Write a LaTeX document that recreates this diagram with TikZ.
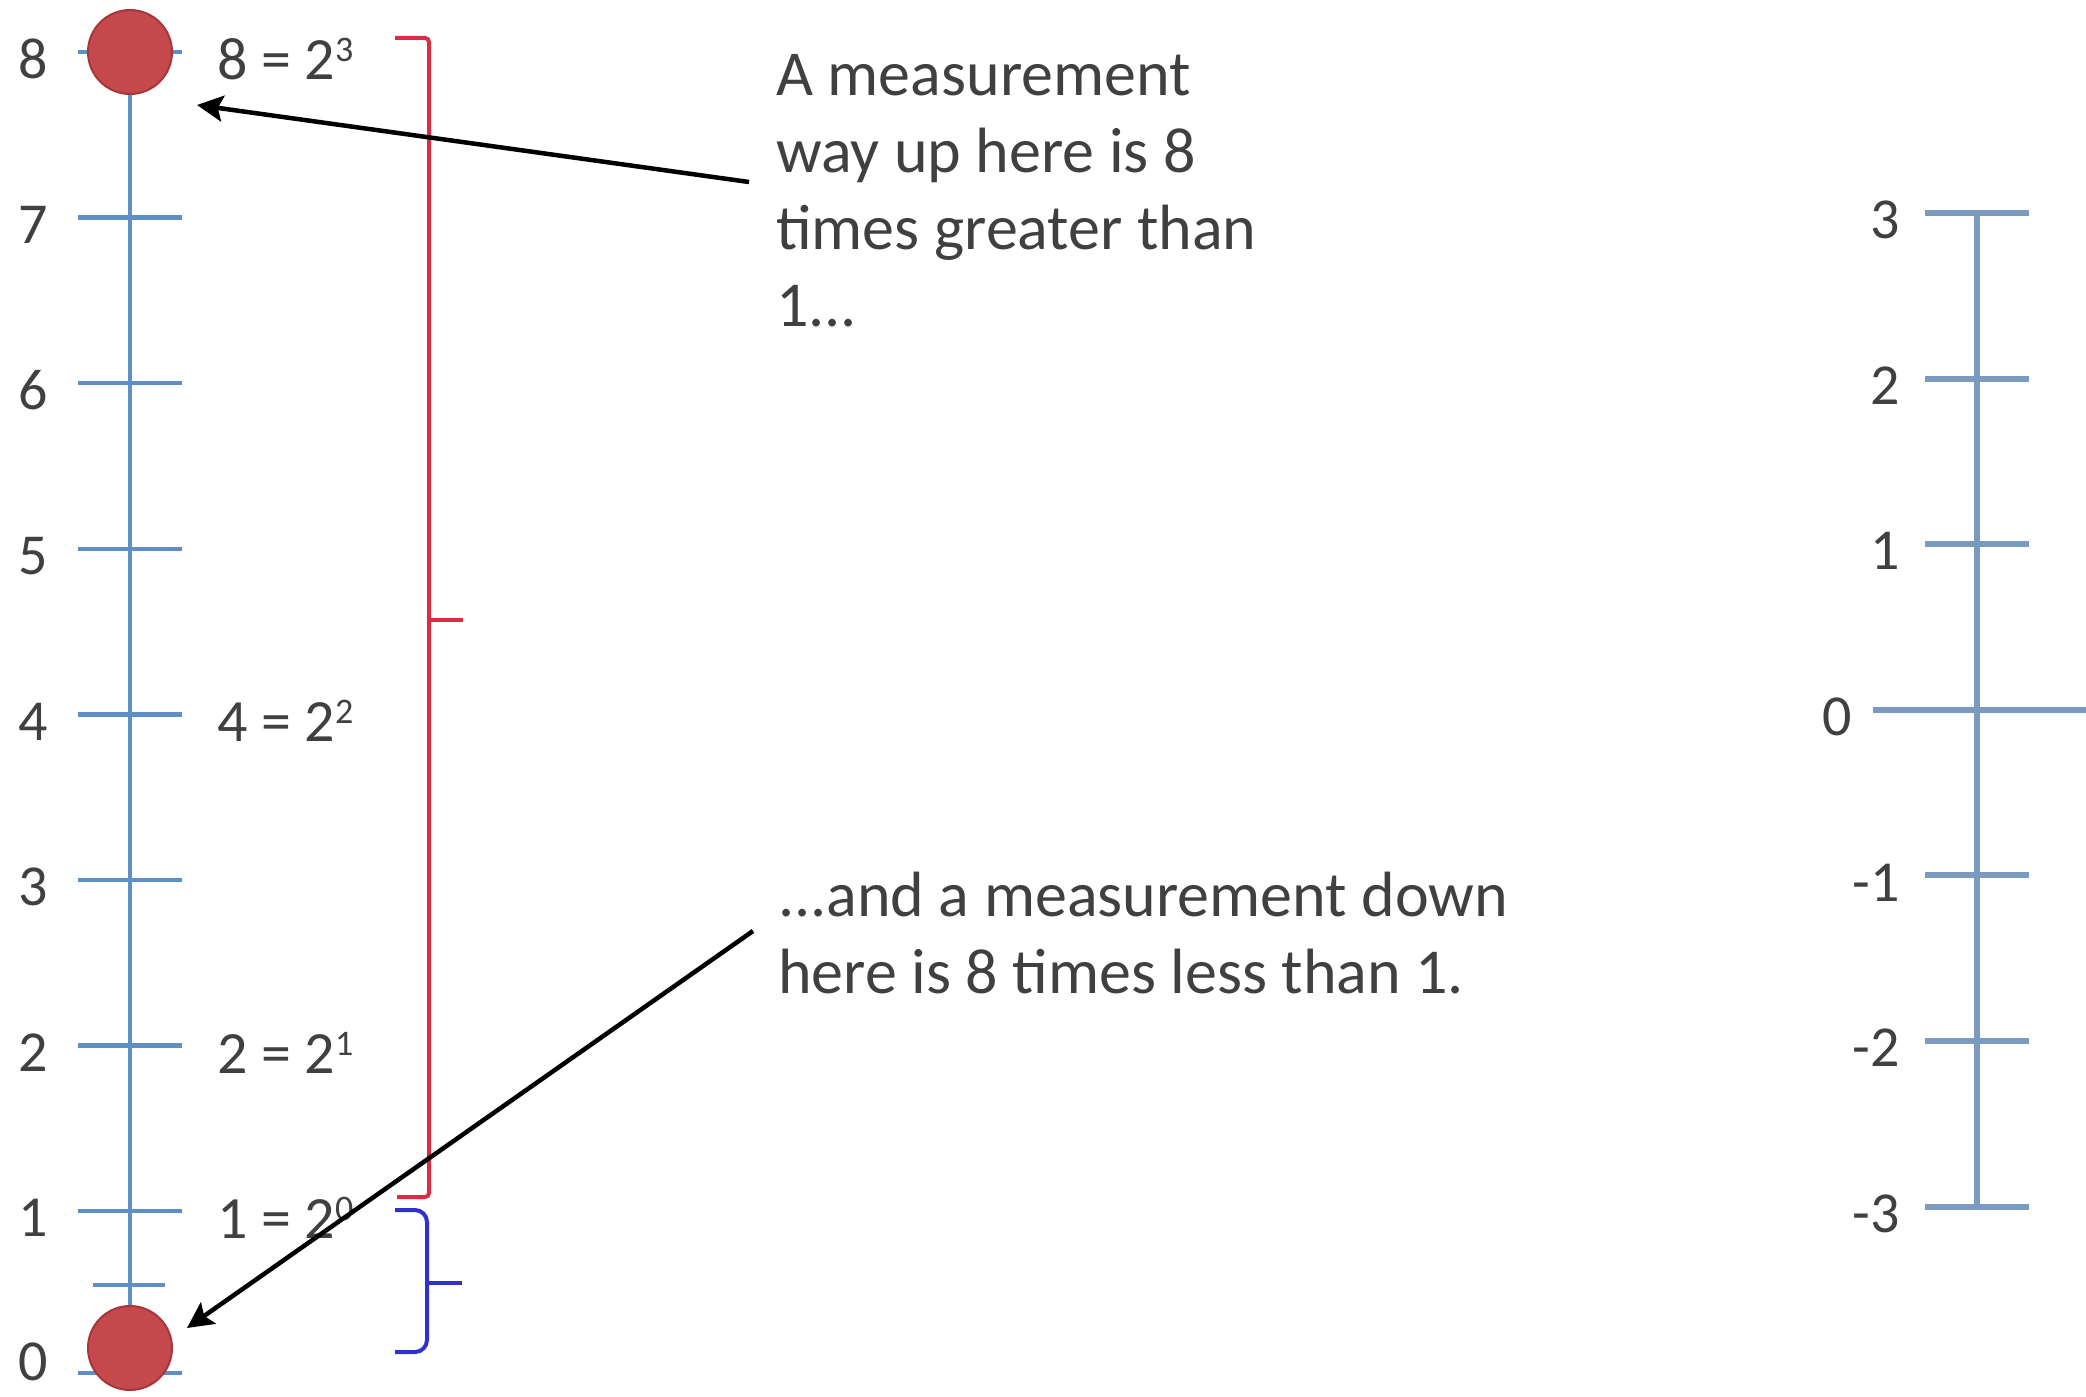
\documentclass[tikz,border=0pt]{standalone}
\usepackage{fontspec}
\setmainfont{Carlito}
\usetikzlibrary{arrows.meta}
\definecolor{axisblue}{RGB}{95,143,198}
\definecolor{axisblueR}{RGB}{122,154,192}
\definecolor{txt}{RGB}{64,64,64}
\definecolor{dotred}{RGB}{196,72,76}
\definecolor{dotedge}{RGB}{165,55,60}
\definecolor{brred}{RGB}{218,44,66}
\definecolor{brblue}{RGB}{48,48,210}
\newcommand{\pw}[1]{\raisebox{0.3em}{\fontsize{36}{36}\selectfont #1}}
\begin{document}
\begin{tikzpicture}[x=1pt,y=-1pt,
  axisline/.style={draw=axisblue,line width=4pt},
  tickmark/.style={draw=axisblue,line width=4.5pt},
  raxis/.style={draw=axisblueR,line width=6pt},
  numlabel/.style={text=txt,font=\fontsize{58}{60}\selectfont,inner sep=0pt},
  eqlabel/.style={text=txt,font=\fontsize{60}{62}\selectfont,inner sep=0pt,anchor=west},
  note/.style={text=txt,font=\fontsize{64}{77}\selectfont,align=left,inner sep=0pt,anchor=north west},
  dot/.style={circle,fill=dotred,draw=dotedge,line width=2pt,minimum size=84pt,inner sep=0pt},
  pointer/.style={draw=black,line width=4.5pt,-{Stealth[length=26pt,width=26pt,inset=5pt]}},
  redbr/.style={draw=brred,line width=4pt},
  bluebr/.style={draw=brblue,line width=4pt},
]
\useasboundingbox (0,0) rectangle (2086,1397);
% left axis
\draw[axisline] (130,52) -- (130,1373);
\foreach \k in {1,...,8} {
  \pgfmathsetmacro\yy{52+(8-\k)*165.6}
  \draw[tickmark] (78,\yy) -- (182,\yy);
  \node[numlabel] (l\k) at (33,\yy+7) {\k};
}
\draw[tickmark] (78,1373) -- (182,1373);
\node[numlabel] (l0) at (33,1362) {0};
\draw[tickmark] (93,1285) -- (165,1285);
\node[dot] (top) at (130,52) {};
\node[dot] (bot) at (130,1348) {};
% power labels
\node[eqlabel] (e8) at (217,59) {8 = 2\pw{3}};
\node[eqlabel] (e4) at (217,721) {4 = 2\pw{2}};
\node[eqlabel] (e2) at (217,1053) {2 = 2\pw{1}};
\node[eqlabel] (e1) at (217,1218) {1 = 2\pw{0}};
% brackets
\draw[redbr,rounded corners=4pt] (395,38) -- (429,38) -- (429,1197) -- (397,1197);
\draw[redbr] (429,620) -- (463,620);
\draw[bluebr,rounded corners=12pt] (395,1210) -- (427,1210) -- (427,1352) -- (395,1352);
\draw[bluebr] (427,1283) -- (462,1283);
% notes
\node[note] (upper) at (776,54) {A measurement\\way up here is 8\\times greater than\\1...};
\node[note] (lower) at (778,872) {...and a measurement down\\here is 8 times less than 1.};
\coordinate (ua) at (749,182);
\coordinate (ut) at (197,105);
\coordinate (la) at (753,931);
\coordinate (lt) at (187,1328);
\draw[pointer] (ua) -- (ut);
\draw[pointer] (la) -- (lt);
% right axis
\draw[raxis] (1977,213) -- (1977,1207);
\foreach \v [count=\i from 0] in {3,2,1,0,-1,-2,-3} {
  \pgfmathsetmacro\yy{213+\i*165.6}
  \ifnum\v=0
    \draw[raxis] (1873,\yy) -- (2086,\yy);
    \node[numlabel,anchor=east] (r\i) at (1852,\yy+7) {\v};
  \else
    \draw[raxis] (1925,\yy) -- (2029,\yy);
    \node[numlabel,anchor=east] (r\i) at (1900,\yy+7) {\v};
  \fi
}
\end{tikzpicture}
\end{document}
